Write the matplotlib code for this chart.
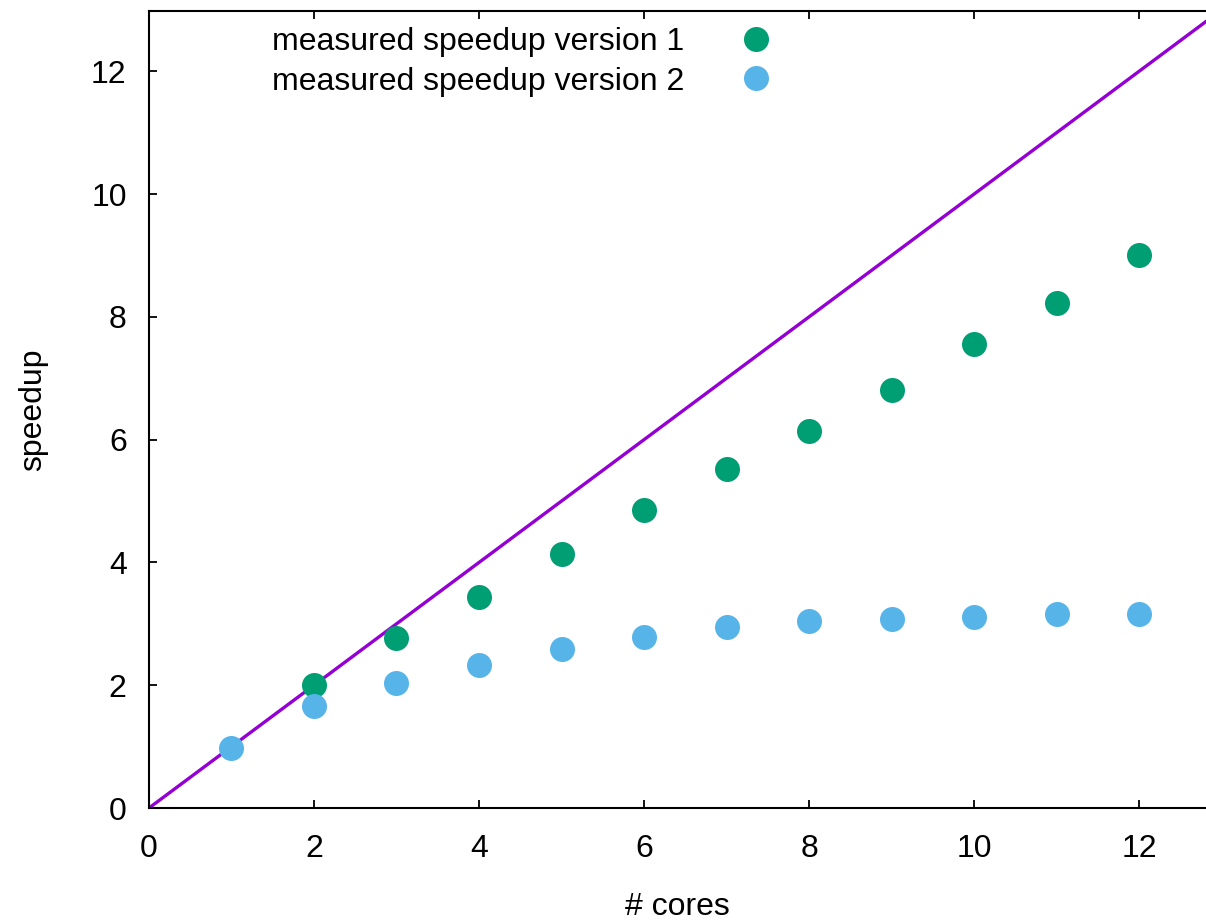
import matplotlib
matplotlib.use("Agg")
import matplotlib.pyplot as plt

# measured data
cores_v1 = [2, 3, 4, 5, 6, 7, 8, 9, 10, 11, 12]
speedup_v1 = [2.0, 2.77, 3.44, 4.14, 4.85, 5.52, 6.14, 6.81, 7.55, 8.22, 9.00]
cores_v2 = [1, 2, 3, 4, 5, 6, 7, 8, 9, 10, 11, 12]
speedup_v2 = [0.98, 1.66, 2.04, 2.33, 2.59, 2.78, 2.95, 3.04, 3.08, 3.11, 3.16, 3.16]

# ideal linear speedup
ideal_x = [0, 13]
ideal_y = [0, 13]

plt.rcParams['font.family'] = ['Liberation Sans', 'DejaVu Sans']
fs = 23

fig = plt.figure(figsize=(12.06, 9.22), dpi=100)
ax = fig.add_axes([0.1235, 0.1236, 0.8765, 0.8644])

ax.plot(ideal_x, ideal_y, color='#9400D3', lw=2.4, zorder=2)
ax.plot(cores_v1, speedup_v1, 'o', color='#009E73', ms=18, mew=0,
        label='measured speedup version 1', zorder=3)
ax.plot(cores_v2, speedup_v2, 'o', color='#56B4E9', ms=18, mew=0,
        label='measured speedup version 2', zorder=3)

ax.set_xlim(0, 12.81)
ax.set_ylim(0, 12.98)
ax.set_xticks(range(0, 13, 2))
ax.set_yticks(range(0, 13, 2))

ax.spines['right'].set_visible(False)
for s in ['left', 'bottom', 'top']:
    ax.spines[s].set_linewidth(1.5)
ax.tick_params(direction='in', length=6, width=1.3, top=True, right=False,
               labelsize=fs)
ax.tick_params(axis='x', pad=19)
ax.tick_params(axis='y', pad=16)

ax.set_xlabel('# cores', fontsize=fs, labelpad=20)
ax.set_ylabel('speedup', fontsize=fs, labelpad=31)

ax.legend(loc='upper left', bbox_to_anchor=(272 / 1206, 1 - 27 / 922),
          bbox_transform=fig.transFigure, frameon=False, markerfirst=False,
          fontsize=fs, handlelength=2.0, handletextpad=1.25, labelspacing=0.3,
          borderaxespad=0, borderpad=0)

fig.savefig('out.png', dpi=100)
